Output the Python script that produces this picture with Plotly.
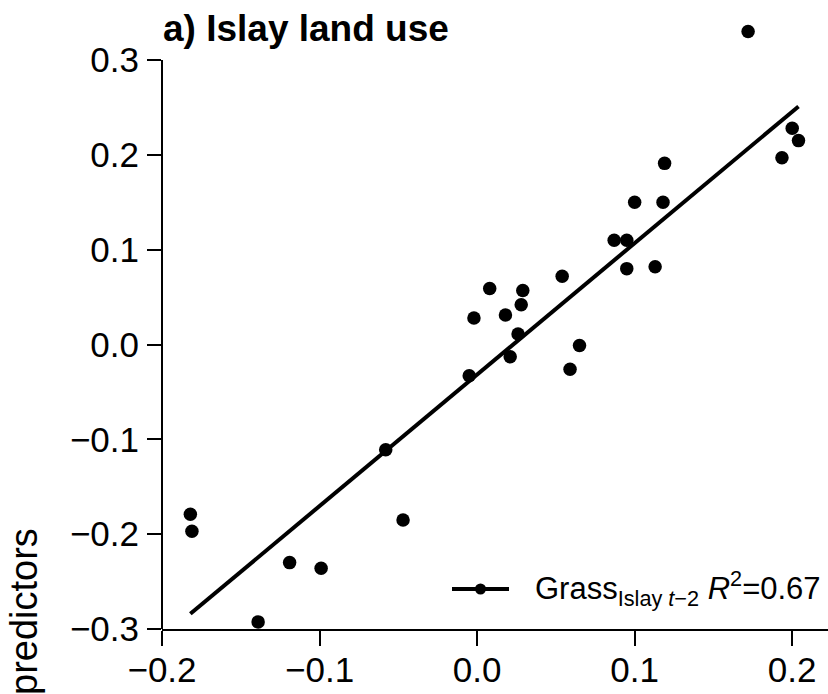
import plotly.graph_objects as go

x_vals = [0.172, 0.200, 0.204, 0.1935, 0.119, 0.100, 0.118, 0.087, 0.095, 0.095,
          0.113, 0.054, 0.008, 0.029, 0.028, -0.002, 0.018, 0.026, 0.065, 0.021,
          0.059, -0.005, -0.058, -0.182, -0.181, -0.047, -0.119, -0.099, -0.139]
y_vals = [0.330, 0.228, 0.215, 0.197, 0.191, 0.150, 0.150, 0.110, 0.110, 0.080,
          0.082, 0.072, 0.059, 0.057, 0.042, 0.028, 0.031, 0.011, -0.001, -0.013,
          -0.026, -0.033, -0.111, -0.179, -0.197, -0.185, -0.230, -0.236, -0.2925]

# Fitted regression line end points
fit_x = [-0.182, 0.204]
fit_y = [-0.284, 0.251]

tick_vals_x = [-0.2, -0.1, 0.0, 0.1, 0.2]
tick_text_x = ["\u22120.2", "\u22120.1", "0.0", "0.1", "0.2"]
tick_vals_y = [-0.3, -0.2, -0.1, 0.0, 0.1, 0.2, 0.3]
tick_text_y = ["\u22120.3", "\u22120.2", "\u22120.1", "0.0", "0.1", "0.2", "0.3"]

title_text = "<b>a) Islay land use</b>"
legend_text = "Grass<sub>Islay <i>t</i>\u22122</sub> <i>R</i><sup>2</sup>=0.67"
ylabel_text = "predictors"

W, H = 828, 694
ML, MR, MT, MB = 162, 0, 10, 65
PW, PH = W - ML - MR, H - MT - MB
YSCALE = 569 / 0.6          # px per data unit on y
XSCALE = 1575.5             # px per data unit on x

def px(xp):
    return (xp - ML) / PW

def py(yp):
    return (H - MB - yp) / PH

FONT = "Liberation Sans, Arial, Helvetica, sans-serif"

fig = go.Figure()
fig.add_trace(go.Scatter(x=fit_x, y=fit_y, mode="lines",
                         line=dict(color="black", width=4),
                         showlegend=False, cliponaxis=False, hoverinfo="skip"))
fig.add_trace(go.Scatter(x=x_vals, y=y_vals, mode="markers",
                         marker=dict(color="black", size=13.5, line=dict(width=0)),
                         showlegend=False, cliponaxis=False))

axis_common = dict(showgrid=False, zeroline=False, linecolor="black",
                   linewidth=2, ticks="outside", tickwidth=2, tickcolor="black",
                   tickfont=dict(family=FONT, size=35, color="black"))

fig.update_layout(
    width=W, height=H,
    margin=dict(l=ML, r=MR, t=MT, b=MB, autoexpand=False),
    paper_bgcolor="white", plot_bgcolor="white",
    showlegend=False,
    xaxis=dict(range=[-0.2, -0.2 + PW / XSCALE], tickmode="array",
               tickvals=tick_vals_x, ticktext=tick_text_x, ticklen=15,
               ticklabelstandoff=-6, showline=True, **axis_common),
    yaxis=dict(range=[-0.3, -0.3 + PH / YSCALE], tickmode="array",
               tickvals=tick_vals_y, ticktext=tick_text_y, ticklen=14,
               ticklabelstandoff=1, showline=False, **axis_common),
)

# y-axis line spanning only the labelled range (R-style axis)
fig.add_shape(type="line", xref="paper", yref="y",
              x0=0, x1=0, y0=tick_vals_y[0], y1=tick_vals_y[-1],
              line=dict(color="black", width=2))

# Title
fig.add_annotation(text=title_text, xref="paper", yref="paper",
                   x=px(161), y=py(29), xanchor="left", yanchor="middle",
                   showarrow=False, font=dict(family=FONT, size=37, color="black"))

# Partially visible y-axis label
fig.add_annotation(text=ylabel_text, xref="paper", yref="paper",
                   x=px(24), y=py(612), xanchor="center", yanchor="middle",
                   textangle=-90, showarrow=False,
                   font=dict(family=FONT, size=38, color="black"))

# Manual legend
fig.add_shape(type="line", xref="paper", yref="paper",
              x0=px(452), x1=px(509), y0=py(589), y1=py(589),
              line=dict(color="black", width=4))
fig.add_shape(type="circle", xref="paper", yref="paper",
              xsizemode="pixel", ysizemode="pixel",
              xanchor=px(480.5), yanchor=py(589),
              x0=-5.5, x1=5.5, y0=-5.5, y1=5.5,
              fillcolor="black", line=dict(width=0))
fig.add_annotation(text=legend_text, xref="paper", yref="paper",
                   x=px(533), y=py(588), xanchor="left", yanchor="middle",
                   showarrow=False, font=dict(family=FONT, size=31, color="black"))

fig.write_html("out.html")
